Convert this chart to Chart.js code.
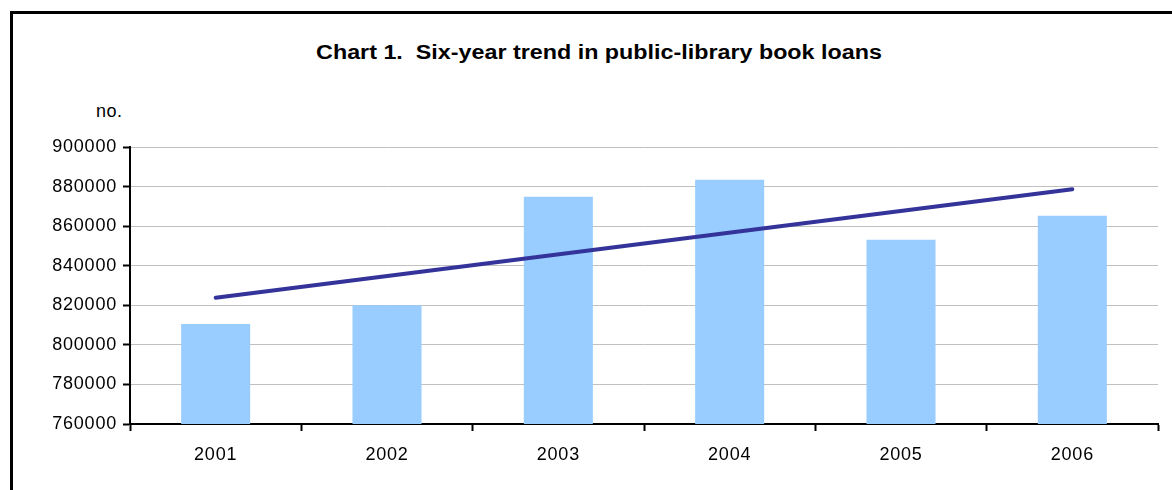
<!DOCTYPE html>
<html>
<head>
<meta charset="utf-8">
<script src="https://cdn.jsdelivr.net/npm/chart.js@4/dist/chart.umd.min.js"></script>
<style>
  html, body { margin: 0; padding: 0; background: #fff; overflow: hidden; }
  #wrap { position: relative; width: 1172px; height: 490px; }
  #frame { position: absolute; left: 10px; top: 11px; width: 1300px; height: 600px; border-left: 3px solid #000; border-top: 3px solid #000; box-sizing: border-box; }
  #title { position: absolute; left: 0; width: 1198px; top: 41px; text-align: center; font: bold 20px "Liberation Sans", Arial, sans-serif; color: #000; transform: scaleX(1.165); transform-origin: 599px 0; }
  #unit { position: absolute; left: 96px; top: 101px; font: 18px "Liberation Sans", Arial, sans-serif; color: #000; letter-spacing: 0.5px; }
  canvas { position: absolute; left: 0; top: 0; }
</style>
</head>
<body>
<div id="wrap">
  <div id="frame"></div>
  <div id="title">Chart 1.&nbsp; Six-year trend in public-library book loans</div>
  <div id="unit">no.</div>
  <canvas id="c" width="1172" height="490"></canvas>
</div>
<script>
const categories = ["2001", "2002", "2003", "2004", "2005", "2006"];
const loans = [810600, 820000, 874800, 883400, 853100, 865200];
const trend = [823800, null, null, null, null, 878700];
const yMin = 760000, yMax = 900000, yStep = 20000;

const spacing = {
  id: 'spacing',
  beforeDraw(chart) { chart.ctx.letterSpacing = '0.8px'; }
};

new Chart(document.getElementById('c'), {
  data: {
    labels: categories,
    datasets: [
      { type: 'line', label: 'Trend', data: trend, spanGaps: true, borderColor: '#333399', borderWidth: 4, pointRadius: 0, borderCapStyle: 'round', order: 0, tension: 0 },
      { type: 'bar', label: 'Loans', data: loans, backgroundColor: '#99CCFF', borderWidth: 0, categoryPercentage: 1, barPercentage: 0.403, order: 1 }
    ]
  },
  options: {
    responsive: false,
    animation: false,
    devicePixelRatio: 1,
    layout: { padding: { top: 147, right: 14, left: 0, bottom: 0 } },
    plugins: { legend: { display: false }, tooltip: { enabled: false }, title: { display: false } },
    scales: {
      x: {
        offset: true,
        grid: { offset: true, drawOnChartArea: false, drawTicks: true, tickLength: 7, tickColor: '#000', tickWidth: 2 },
        border: { color: '#000', width: 2 },
        ticks: { color: '#000', font: { family: '"Liberation Sans", Arial, sans-serif', size: 18 }, padding: 13, maxRotation: 0 },
        afterFit(s) { s.height = 66; }
      },
      y: {
        min: yMin, max: yMax,
        grid: { color: '#C0C0C0', lineWidth: 1, drawTicks: true, tickLength: 7, tickColor: '#000', tickWidth: 2 },
        border: { color: '#000', width: 2 },
        ticks: { stepSize: yStep, color: '#000', font: { family: '"Liberation Sans", Arial, sans-serif', size: 18 }, padding: 6, callback: v => String(v) },
        afterFit(s) { s.width = 130; }
      }
    }
  },
  plugins: [spacing]
});
</script>
</body>
</html>
